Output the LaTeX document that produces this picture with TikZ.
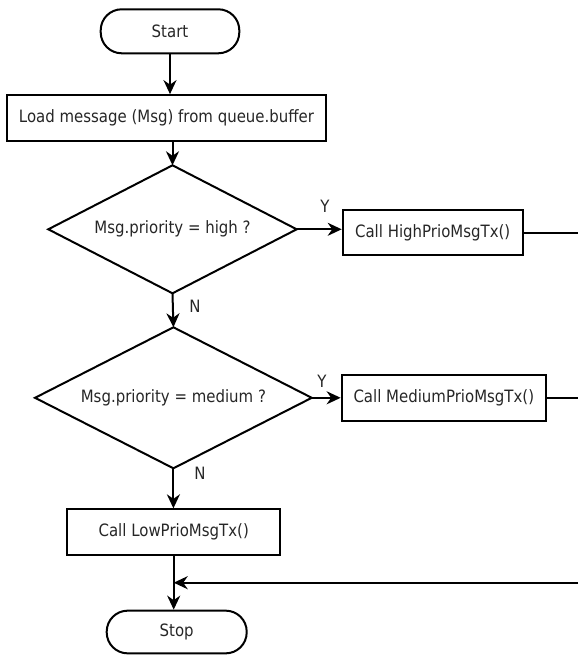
\documentclass[tikz,border=0pt]{standalone}
\usepackage{fontspec}
\setmainfont{DejaVu Sans}[FakeStretch=0.88]
\usetikzlibrary{shapes.geometric,arrows.meta}
\begin{document}
\begin{tikzpicture}[x=1pt,y=-1pt,
  every node/.style={font=\fontsize{17}{20}\selectfont, text=black!85},
  shapebase/.style={draw=black, line width=2pt, inner sep=0pt},
  terminal/.style={shapebase, rectangle, rounded corners=21pt},
  process/.style={shapebase, rectangle},
  decision/.style={rectangle, inner sep=0pt, outer sep=0pt},
  diamondline/.style={draw=black, line width=2pt, line join=miter},
  conn/.style={line width=2pt, -{Stealth[length=14pt,width=13pt,inset=4.5pt]}},
  plain/.style={line width=2pt},
  lbl/.style={inner sep=0pt}
]
\useasboundingbox (0,0) rectangle (578,655);

\node[terminal, minimum width=138.6pt, minimum height=44pt] (start) at (170,31.3) {Start};
\node[process, minimum width=319pt, minimum height=46.3pt] (load) at (166.5,118.3) {Load message (Msg) from queue.buffer};
\node[decision, minimum width=248.4pt, minimum height=128pt] (d1) at (172.5,229.3) {Msg.priority = high ?};
\draw[diamondline] (d1.north) -- (d1.east) -- (d1.south) -- (d1.west) -- cycle;
\node[process, minimum width=180pt, minimum height=45pt] (high) at (432.7,232.5) {Call HighPrioMsgTx()};
\node[decision, minimum width=276.7pt, minimum height=141pt] (d2) at (173.4,397.8) {Msg.priority = medium ?};
\draw[diamondline] (d2.north) -- (d2.east) -- (d2.south) -- (d2.west) -- cycle;
\node[process, minimum width=204.3pt, minimum height=45.7pt] (medium) at (443.8,397.8) {Call MediumPrioMsgTx()};
\node[process, minimum width=212.7pt, minimum height=45.7pt] (low) at (173.7,532.2) {Call LowPrioMsgTx()};
\node[terminal, minimum width=140pt, minimum height=42.7pt] (stop) at (176.7,632) {Stop};

\node[lbl] (y1) at (325,206.7) {Y};
\node[lbl] (n1) at (195,306.7) {N};
\node[lbl] (y2) at (322,381.7) {Y};
\node[lbl] (n2) at (200,473.3) {N};

\coordinate (highout) at (578,232.5);
\coordinate (medout) at (578,397.8);
\coordinate (ret) at (578,582.7);

\draw[conn] (start.south) -- (start.south |- load.north);
\draw[conn] (load.south -| d1.north) -- (d1.north);
\draw[conn] (d1.east) -- (d1.east -| high.west);
\draw[plain] (high.east) -- (highout);
\draw[conn] (d1.south) -- (d2.north);
\draw[conn] (d2.east) -- (d2.east -| medium.west);
\draw[plain] (medium.east) -- (medout);
\draw[conn] (d2.south) -- (d2.south |- low.north);
\draw[conn] (low.south) -- (low.south |- stop.north);
\draw[conn] (ret) -- (ret -| low.south);
\end{tikzpicture}
\end{document}
